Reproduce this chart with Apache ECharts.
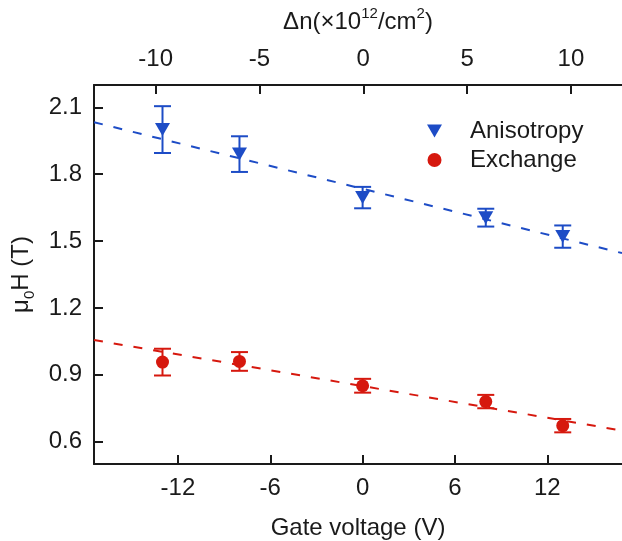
<!DOCTYPE html>
<html>
<head>
<meta charset="utf-8">
<script src="https://cdn.jsdelivr.net/npm/echarts@6/dist/echarts.min.js"></script>
<style>html,body{margin:0;padding:0;background:#fff}#c{width:622px;height:541px}</style>
</head>
<body>
<div id="c"></div>
<script>
// ---- data ----
var gateVoltage = [-13, -8, 0, 8, 13];
var anisotropy = [2.00, 1.89, 1.695, 1.605, 1.52];
var anisotropyErr = [0.105, 0.08, 0.048, 0.04, 0.05];
var exchange = [0.957, 0.96, 0.851, 0.78, 0.672];
var exchangeErr = [0.06, 0.042, 0.031, 0.03, 0.03];
var fitX = [-17.45, 16.85];
var anisotropyFit = [2.033, 1.446];
var exchangeFit = [1.056, 0.650];
var gateTicks = [-12, -6, 0, 6, 12];
var densityTicks = [-10, -5, 0, 5, 10];
var fieldTicks = [0.6, 0.9, 1.2, 1.5, 1.8, 2.1];

var BLUE = '#1d4cc6', RED = '#d6180e', INK = '#1a1a1a';
var FONT = '"Liberation Sans", Arial, sans-serif';

function pts(xs, ys) { return xs.map(function (x, i) { return [x, ys[i]]; }); }
function bars(xs, ys, es) { return xs.map(function (x, i) { return [x, ys[i] - es[i], ys[i] + es[i]]; }); }
function errRender(color) {
  return function (params, api) {
    var x = api.value(0), lo = api.coord([x, api.value(1)]), hi = api.coord([x, api.value(2)]);
    var w = 8.5, st = { stroke: color, lineWidth: 2 };
    return { type: 'group', children: [
      { type: 'line', shape: { x1: hi[0], y1: hi[1], x2: lo[0], y2: lo[1] }, style: st },
      { type: 'line', shape: { x1: hi[0] - w, y1: hi[1], x2: hi[0] + w, y2: hi[1] }, style: st },
      { type: 'line', shape: { x1: lo[0] - w, y1: lo[1], x2: lo[0] + w, y2: lo[1] }, style: st }
    ]};
  };
}
var tri = 'path://M0,0L15,0L7.5,13Z';
var axisBase = {
  axisLine: { show: true, onZero: false, lineStyle: { color: INK, width: 2 } },
  axisTick: { show: true, inside: true, length: 9, lineStyle: { color: INK, width: 2 } },
  splitLine: { show: false },
  axisLabel: { color: INK, fontSize: 24, fontFamily: FONT }
};
function ax(extra) { return echarts.util.merge(JSON.parse(JSON.stringify(axisBase)), extra, true); }

var chart = echarts.init(document.getElementById('c'), null, { renderer: 'canvas' });
chart.setOption({
  animation: false,
  backgroundColor: '#fff',
  grid: { left: 94, right: 0, top: 85, bottom: 77, containLabel: false, outerBoundsMode: 'none' },
  legend: {
    orient: 'vertical', left: 427, top: 119, padding: 0, itemGap: 5, itemWidth: 15, itemHeight: 14,
    textStyle: { fontSize: 24, fontFamily: FONT, color: INK, padding: [0, 0, 0, 23], lineHeight: 24 },
    data: [{ name: 'Anisotropy', icon: tri }, { name: 'Exchange', icon: 'circle' }]
  },
  xAxis: [
    ax({ type: 'value', position: 'bottom', min: fitX[0], max: fitX[1],
      axisTick: { customValues: gateTicks }, axisLabel: { customValues: gateTicks, margin: 12 },
      name: 'Gate voltage (V)', nameLocation: 'middle', nameGap: 52,
      nameTextStyle: { fontSize: 24, fontFamily: FONT, color: INK } }),
    ax({ type: 'value', position: 'top', min: -12.97, max: 12.46,
      axisTick: { customValues: densityTicks }, axisLabel: { customValues: densityTicks, margin: 14 },
      name: '{t|Δn(×10}{s|12}{t|/cm}{s|2}{t|)}', nameLocation: 'middle', nameGap: 51,
      nameTextStyle: { rich: {
        t: { fontSize: 24, fontFamily: FONT, color: INK, lineHeight: 28, verticalAlign: 'bottom' },
        s: { fontSize: 15, fontFamily: FONT, color: INK, lineHeight: 28, verticalAlign: 'top' }
      } } })
  ],
  yAxis: [
    ax({ type: 'value', min: 0.5, max: 2.2,
      axisTick: { customValues: fieldTicks },
      axisLabel: { customValues: fieldTicks, margin: 12, formatter: function (v) { return v.toFixed(1); } },
      name: '{t|μ}{s|0}{t|H (T)}', nameLocation: 'middle', nameGap: 52, nameRotate: 90,
      nameTextStyle: { rich: {
        t: { fontSize: 24, fontFamily: FONT, color: INK, lineHeight: 28, verticalAlign: 'top' },
        s: { fontSize: 15, fontFamily: FONT, color: INK, lineHeight: 28, verticalAlign: 'bottom' }
      } } })
  ],
  series: [
    { name: 'AnisotropyFit', type: 'line', data: pts(fitX, anisotropyFit), symbol: 'none', silent: true,
      lineStyle: { color: BLUE, width: 2, type: [9, 11] }, z: 1 },
    { name: 'ExchangeFit', type: 'line', data: pts(fitX, exchangeFit), symbol: 'none', silent: true,
      lineStyle: { color: RED, width: 2, type: [9, 11] }, z: 1 },
    { name: 'AnisotropyErr', type: 'custom', data: bars(gateVoltage, anisotropy, anisotropyErr),
      renderItem: errRender(BLUE), encode: { x: 0, y: [1, 2] }, z: 2 },
    { name: 'ExchangeErr', type: 'custom', data: bars(gateVoltage, exchange, exchangeErr),
      renderItem: errRender(RED), encode: { x: 0, y: [1, 2] }, z: 2 },
    { name: 'Anisotropy', type: 'scatter', data: pts(gateVoltage, anisotropy), symbol: tri,
      symbolSize: [15, 13], itemStyle: { color: BLUE, opacity: 1 }, z: 3 },
    { name: 'Exchange', type: 'scatter', data: pts(gateVoltage, exchange), symbol: 'circle',
      symbolSize: 13, itemStyle: { color: RED, opacity: 1 }, z: 3 }
  ]
});
</script>
</body>
</html>
